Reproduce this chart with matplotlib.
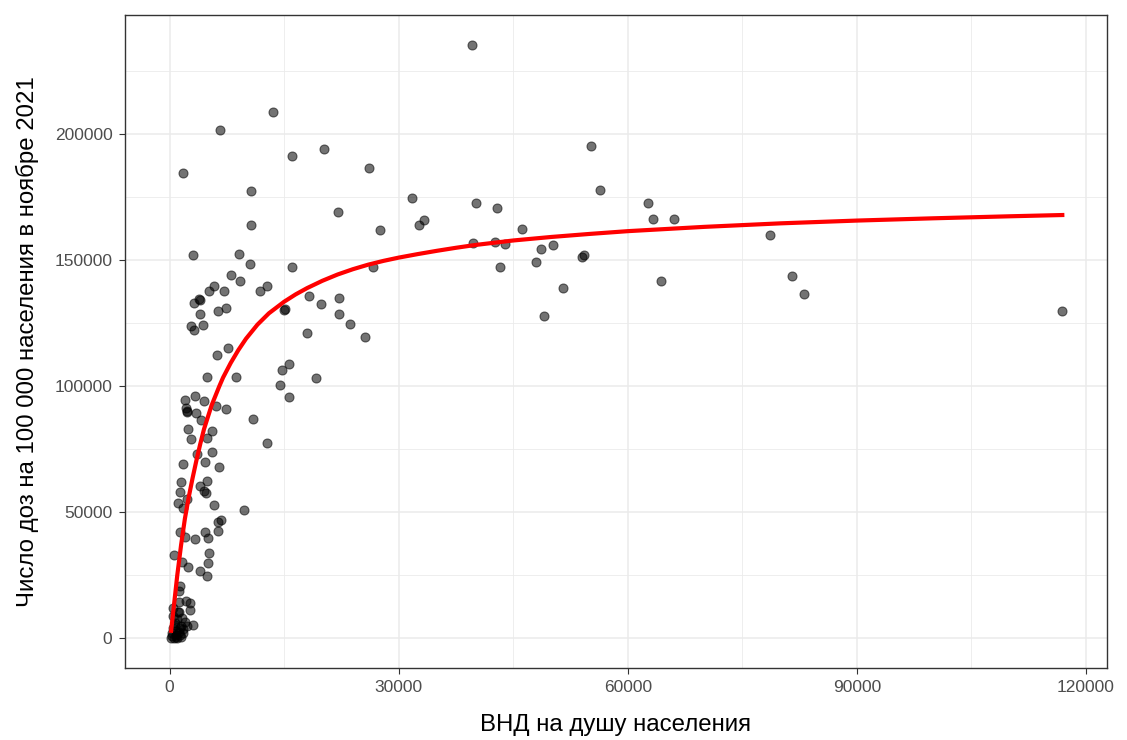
import matplotlib
matplotlib.use("Agg")
import matplotlib.pyplot as plt
from matplotlib.ticker import MultipleLocator
import numpy as np

plt.rcParams['font.family'] = ['Liberation Sans', 'DejaVu Sans']

# GNI per capita vs vaccine doses per 100 000
gni = [
    39600, 6660, 13600, 1700, 10700, 10700, 3000, 9140, 10580, 8100,
    9270, 5750, 5220, 7180, 12800, 11880, 3900, 4000, 3130, 3920,
    6400, 7440, 2740, 3130, 4310, 7700, 6140, 4830, 8750, 15000,
    14760, 14500, 1960, 3260, 4440, 2090, 2220, 2300, 3400, 6010,
    7440, 4050, 10970, 2350, 5490, 2740, 4830, 12800, 5490, 3530,
    1700, 4570, 6530, 1440, 4830, 1310, 3920, 4500, 4800, 1040,
    1700, 2220, 5750, 9800, 6400, 6790, 6270, 1310, 1960, 3260,
    4570, 5090, 520, 1570, 2350, 5220, 5090, 3920, 4830, 1310,
    1180, 2090, 2610, 2610, 1180, 1180, 3000, 2220,
    600, 300, 900, 1200, 500, 1500, 700, 1000, 400, 1800,
    1400, 200, 800, 1100, 1600, 500, 900, 1300, 2000, 1700,
    650, 350, 1000, 1500,
    16060, 20240, 26120, 22070, 31740, 32650, 33300, 27560, 16060, 26640,
    18280, 22200, 19850, 22200, 15150, 23640, 18020, 25600, 15670, 19200,
    15670, 55240, 56290, 40100, 42840, 62690, 63340, 66080, 46100, 39700,
    42580, 43880, 48580, 50150, 54000, 54300, 47930, 43230, 51460, 48970,
    64390, 78620, 81490, 83060, 116890,
]
doses = [
    235600, 201600, 208700, 184500, 177400, 163900, 152000, 152500, 148500, 144100,
    141800, 139800, 137800, 137800, 139800, 137800, 134800, 134200, 133000, 128700,
    129900, 131100, 124000, 122400, 124300, 115200, 112500, 103800, 103800, 130300,
    106500, 100400, 94600, 96200, 94200, 91500, 89900, 90300, 89500, 92300,
    91100, 86700, 87100, 83200, 82400, 79200, 79600, 77600, 74000, 73300,
    69300, 70100, 68100, 62200, 62600, 58200, 60600, 58600, 57800, 53900,
    51900, 55400, 53100, 51100, 46300, 47100, 42400, 42000, 40400, 39600,
    42000, 40000, 32900, 30100, 28500, 33700, 29700, 26900, 24900, 20600,
    18600, 15000, 13900, 11100, 14300, 10300, 5100, 4800,
    300, 800, 1500, 2500, 4000, 5000, 6000, 7500, 9000, 3500,
    1200, 200, 3000, 10500, 8000, 12000, 600, 4200, 6500, 2000,
    5400, 2000, 200, 700,
    191300, 194400, 186500, 169100, 174600, 163900, 165900, 162000, 147300, 147300,
    135800, 135000, 132700, 128700, 130700, 124700, 121200, 119600, 108900, 103400,
    95800, 195200, 177800, 172700, 170700, 172700, 166300, 166300, 162400, 156800,
    157200, 156400, 154400, 156000, 151500, 152000, 149300, 147300, 139000, 127900,
    141800, 160000, 143700, 136600, 129900,
]

# fitted curve
fit_x = [200, 600, 1000, 1500, 2000, 2500, 3000, 3500, 4000, 4500,
         5500, 6500, 7000, 8000, 9000, 10000, 11500, 13000, 15000, 16500,
         18000, 20000, 22000, 24000, 26000, 28000, 30000, 32500, 35000, 37500,
         40000, 45000, 50000, 55000, 60000, 70000, 80000, 90000, 100000, 110000,
         116890]
fit_y = [3000, 14000, 25000, 37000, 47500, 56000, 63500, 70500, 77000, 83000,
         92500, 100000, 103500, 109300, 114400, 118900, 124500, 129000, 133600, 136500,
         139000, 141900, 144400, 146500, 148300, 149800, 151100, 152500, 153800, 155000,
         156100, 157900, 159300, 160500, 161600, 163300, 164700, 165800, 166700, 167500,
         168000]

fig = plt.figure(figsize=(11.27, 7.4), dpi=100)
ax = fig.add_axes([0.1109, 0.0973, 0.8713, 0.8824])

ax.scatter(gni, doses, s=42, color='black', alpha=0.55, linewidths=0.8, zorder=3)
ax.plot(fit_x, fit_y, color='red', linewidth=3, zorder=4, solid_joinstyle='round')

ax.set_xlim(-5845, 122735)
ax.set_ylim(-11780, 247380)
ax.xaxis.set_major_locator(MultipleLocator(30000))
ax.xaxis.set_minor_locator(MultipleLocator(15000))
ax.yaxis.set_major_locator(MultipleLocator(50000))
ax.yaxis.set_minor_locator(MultipleLocator(25000))
ax.grid(which='major', color='#EBEBEB', linewidth=1.1, zorder=0)
ax.grid(which='minor', color='#EBEBEB', linewidth=0.6, zorder=0)
ax.set_axisbelow(True)
ax.tick_params(which='major', length=4, width=0.8, color='#333333',
               labelcolor='#4D4D4D', labelsize=12.5, pad=5)
ax.tick_params(which='minor', length=0)
for sp in ax.spines.values():
    sp.set_color('#333333')
    sp.set_linewidth(1.0)

ax.set_xlabel('ВНД на душу населения', fontsize=17.3, labelpad=13)
ax.set_ylabel('Число доз на 100 000 населения в ноябре 2021', fontsize=17.3, labelpad=11)

fig.savefig('out.png', dpi=100)
